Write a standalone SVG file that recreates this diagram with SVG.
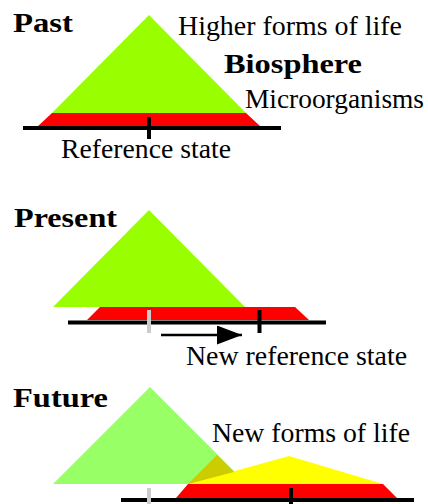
<svg xmlns="http://www.w3.org/2000/svg" width="428" height="504" viewBox="0 0 428 504">
<style>
text{font-family:"Liberation Serif","Times New Roman","DejaVu Serif",serif;font-size:27px;fill:#000}
.b{font-weight:bold}
.axis{stroke:#000;stroke-width:4;fill:none}
.tick{stroke:#000;stroke-width:4}
.gtick{stroke:#cccccc;stroke-width:4}
</style>
<defs>
<marker id="ah" viewBox="0 0 25 19" refX="25" refY="9.5" markerWidth="25" markerHeight="19" markerUnits="userSpaceOnUse" orient="auto">
<path d="M0,0 L25,9.5 L0,19 z" fill="#000"/>
</marker>
</defs>
<rect width="428" height="504" fill="#fff"/>

<g id="past">
<polygon points="149,15 52,113 246,113" fill="#99ff00"/>
<polygon points="52,113 246,113 261,127 37,127" fill="#ff0000"/>
<line class="axis" x1="23" y1="128" x2="281" y2="128"/>
<line class="tick" x1="149" y1="117" x2="149" y2="139"/>
<text class="b" x="13" y="32" textLength="60" lengthAdjust="spacingAndGlyphs">Past</text>
<text x="178" y="35" textLength="224" lengthAdjust="spacingAndGlyphs">Higher forms of life</text>
<text class="b" x="224" y="73" textLength="138" lengthAdjust="spacingAndGlyphs">Biosphere</text>
<text x="245" y="108" textLength="179" lengthAdjust="spacingAndGlyphs">Microorganisms</text>
<text x="61" y="158" textLength="170" lengthAdjust="spacingAndGlyphs">Reference state</text>
</g>

<g id="present">
<polygon points="100,307 295,307 309,320 87,320" fill="#ff0000"/>
<polygon points="149,210 53,307 245,307" fill="#99ff00"/>
<line class="axis" x1="68" y1="322.5" x2="326" y2="322.5"/>
<line class="gtick" x1="149" y1="310" x2="149" y2="333"/>
<line class="tick" x1="259.5" y1="310" x2="259.5" y2="333"/>
<text class="b" x="14" y="227" textLength="103" lengthAdjust="spacingAndGlyphs">Present</text>
<text x="186" y="365" textLength="221" lengthAdjust="spacingAndGlyphs">New reference state</text>
</g>

<g id="future">
<polygon points="150,387 53,484 247,484" fill="#99ff66"/>
<polygon points="289,456 383,484 188,484" fill="#ffff00"/>
<polygon points="217,455 234,472 188,484" fill="#cccc00"/>
<polygon points="188,484 383,484 397,498 176,498" fill="#ff0000"/>
<line class="axis" x1="121" y1="500" x2="414" y2="500"/>
<line class="gtick" x1="149" y1="488" x2="149" y2="504"/>
<line class="tick" x1="291" y1="488" x2="291" y2="504"/>
<text class="b" x="13" y="407" textLength="95" lengthAdjust="spacingAndGlyphs">Future</text>
<text x="212" y="442" textLength="198" lengthAdjust="spacingAndGlyphs">New forms of life</text>
</g>

<g id="connectors">
<line x1="161" y1="335" x2="242" y2="335" stroke="#000" stroke-width="2.5" marker-end="url(#ah)"/>
</g>
</svg>
